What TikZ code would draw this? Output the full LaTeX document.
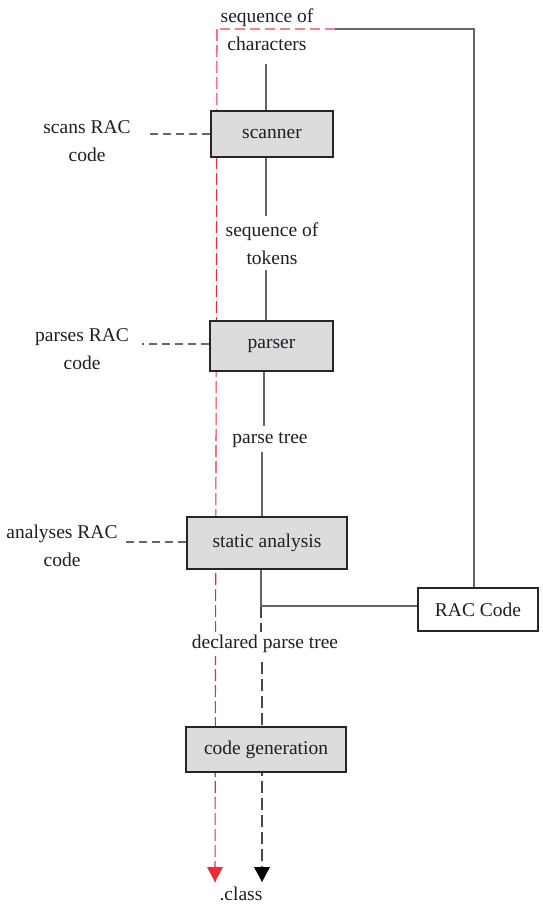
\documentclass[tikz,border=0pt]{standalone}
\usepackage{fontspec}
\setmainfont{Liberation Serif}
\usetikzlibrary{arrows.meta}
\definecolor{boxfill}{HTML}{DCDCDC}
\definecolor{conngray}{HTML}{666666}
\definecolor{redline}{HTML}{EE2A35}
\definecolor{txt}{HTML}{1E1E28}
\begin{document}
\begin{tikzpicture}[x=1pt,y=-1pt,
  every node/.style={font=\fontsize{19.5}{28}\selectfont, text=txt},
  stagebox/.style={draw=black!85, line width=1.2pt, fill=boxfill, inner sep=0pt},
  lbl/.style={align=center, inner sep=0pt},
  conn/.style={draw=conngray, line width=1.4pt},
  sidedash/.style={draw=conngray, line width=1.4pt, dash pattern=on 8pt off 5pt},
  outdash/.style={draw=conngray!70!black, line width=1.4pt, dash pattern=on 12pt off 5pt},
  reddash/.style={draw=redline, line width=1.1pt, dash pattern=on 12pt off 4pt},
  redtop/.style={draw=redline!60, line width=1.4pt, dash pattern=on 10pt off 5pt}
]
\useasboundingbox (0,0) rectangle (542,905);

% coordinates for free ends / corners
\coordinate (rc) at (335,29);
\coordinate (rt) at (217,29);
\coordinate (redend) at (215,882);
\coordinate (gc) at (474,29);
\coordinate (j) at (261,606);
\coordinate (blkend) at (262,882);

% red dashed path (behind boxes)
\draw[redtop] (rc) -- (rt);
\draw[reddash] (rt) -- (redend);

% black dashed output path (behind boxes)
\node[lbl, fill=white, inner ysep=3pt] (decl) at (265,644) {declared parse tree};
\draw[outdash] (j) -- (j |- decl.north);
\draw[outdash] (decl.south -| blkend) ++(0,6) -- (blkend);

% boxes
\node[stagebox, minimum width=122pt, minimum height=46pt] (scan) at (272,134) {scanner};
\node[stagebox, minimum width=123pt, minimum height=50pt] (pars) at (271.5,346) {parser};
\node[stagebox, minimum width=160pt, minimum height=52pt] (stat) at (267,543) {static analysis};
\node[stagebox, minimum width=160pt, minimum height=45pt] (cgen) at (266,749.5) {code generation};
\node[draw=black!85, line width=1.2pt, fill=white, minimum width=120pt, minimum height=43pt, inner sep=0pt] (rac) at (478,609.5) {RAC Code};

% arrowheads
\fill[redline] (redend) -- ++(-8,-15) -- ++(16,0) -- cycle;
\fill[black] (blkend) -- ++(-8,-15) -- ++(16,0) -- cycle;
\node[lbl] (cls) at (241,894) {.class};

% labels on the main line
\node[lbl] (l1) at (267,30) {sequence of\\characters};
\node[lbl] (l2) at (272,244) {sequence of\\tokens};
\node[lbl] (l3) at (270,440) {parse tree};

% main solid connectors
\draw[conn] (266,64) coordinate (a1) -- (a1 |- scan.north);
\draw[conn] (scan.south -| a1) -- ++(0,58) coordinate (a2);
\draw[conn] (266,270) coordinate (a3) -- (a3 |- pars.north);
\draw[conn] (pars.south -| 264,0) -- ++(0,54) coordinate (a4);
\draw[conn] (262,452) coordinate (a5) -- (a5 |- stat.north);
\draw[conn] (stat.south -| j) -- (j) -- (j -| rac.west);

% top gray return line
\draw[conn] (rc) -- (gc) -- (gc |- rac.north);

% side annotations
\node[lbl] (s1) at (87,141) {scans RAC\\code};
\draw[sidedash] (scan.west) -- ++(-64,0);
\node[lbl] (s2) at (82,349) {parses RAC\\code};
\draw[sidedash] (pars.west |- 0,344) -- ++(-67,0);
\node[lbl] (s3) at (62,546) {analyses RAC\\code};
\draw[sidedash] (stat.west |- 0,542) -- ++(-62,0);
\end{tikzpicture}
\end{document}
